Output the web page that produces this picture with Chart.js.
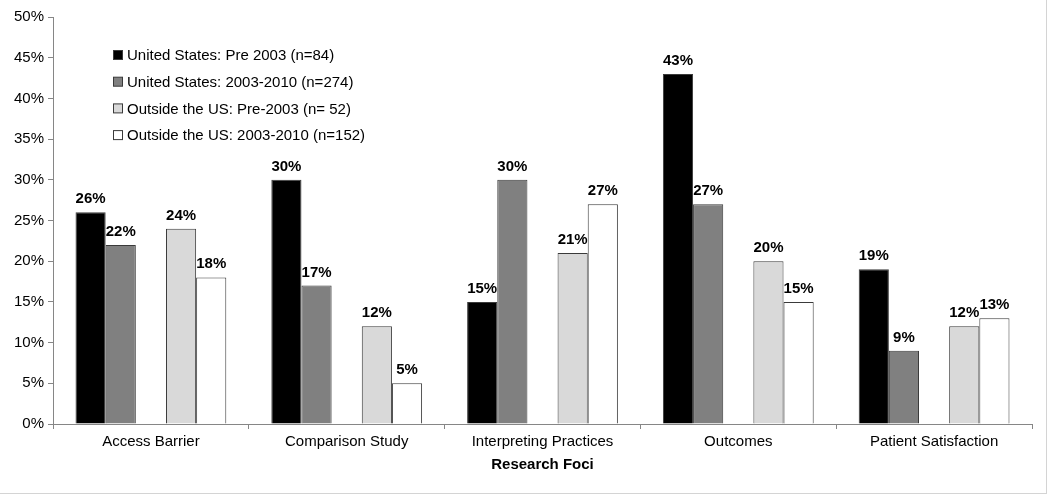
<!DOCTYPE html>
<html lang="en">
<head>
    <meta charset="UTF-8">
    <title>Research Foci</title>
    <script src="https://cdn.jsdelivr.net/npm/chart.js"></script>
    <style>
        body { margin: 0; background: #fff; font-family: "Liberation Sans", Arial, sans-serif; }
        #wrap {
            position: relative;
            width: 1046px;
            height: 493px;
            border-right: 1px solid #d4d4d4;
            border-bottom: 1px solid #d4d4d4;
        }
    </style>
</head>
<body>
<div id="wrap">
    <canvas id="chartCanvas" width="1046" height="493"></canvas>
</div>

<script>
    const categories = ['Access Barrier', 'Comparison Study', 'Interpreting Practices', 'Outcomes', 'Patient Satisfaction'];
    const seriesNames = [
        'United States: Pre 2003 (n=84)',
        'United States: 2003-2010 (n=274)',
        'Outside the US: Pre-2003 (n= 52)',
        'Outside the US: 2003-2010 (n=152)'
    ];
    const usPre2003 = [26, 30, 15, 43, 19];
    const us2003to2010 = [22, 17, 30, 27, 9];
    const outsidePre2003 = [24, 12, 21, 20, 12];
    const outside2003to2010 = [18, 5, 27, 15, 13];
    const yTicks = [0, 5, 10, 15, 20, 25, 30, 35, 40, 45, 50];

    const fills = ['#000000', '#808080', '#d9d9d9', '#ffffff'];
    const FONT = '"Liberation Sans", Arial, sans-serif';

    function barSet(label, data, i) {
        return {
            label, data,
            backgroundColor: fills[i],
            borderColor: '#3a3a3a',
            borderWidth: 1,
            borderSkipped: 'bottom'
        };
    }

    // empty slot between US and non-US bars, like the original
    const spacer = { label: '', data: categories.map(() => null), backgroundColor: 'transparent', spacer: true };

    const valueLabels = {
        id: 'valueLabels',
        afterDatasetsDraw(chart) {
            const ctx = chart.ctx;
            ctx.save();
            ctx.font = 'bold 15px ' + FONT;
            ctx.fillStyle = '#000';
            ctx.textAlign = 'center';
            ctx.textBaseline = 'alphabetic';
            chart.data.datasets.forEach((ds, di) => {
                if (ds.spacer) return;
                chart.getDatasetMeta(di).data.forEach((bar, i) => {
                    ctx.fillText(ds.data[i] + '%', bar.x, bar.y - 9);
                });
            });
            ctx.restore();
        }
    };

    const boxLegend = {
        id: 'boxLegend',
        afterDraw(chart) {
            const ctx = chart.ctx;
            ctx.save();
            ctx.font = '15px ' + FONT;
            ctx.textBaseline = 'middle';
            seriesNames.forEach((name, i) => {
                const y = 55 + i * 26.7;
                ctx.fillStyle = fills[i];
                ctx.fillRect(113.5, y - 4.5, 9, 9);
                ctx.strokeStyle = '#3a3a3a';
                ctx.lineWidth = 1;
                ctx.strokeRect(113.5, y - 4.5, 9, 9);
                ctx.fillStyle = '#000';
                ctx.fillText(name, 127, y + 1);
            });
            ctx.restore();
        }
    };

    const datasets = [
        barSet(seriesNames[0], usPre2003, 0),
        barSet(seriesNames[1], us2003to2010, 1),
        spacer,
        barSet(seriesNames[2], outsidePre2003, 2),
        barSet(seriesNames[3], outside2003to2010, 3)
    ];

    new Chart(document.getElementById('chartCanvas'), {
        type: 'bar',
        data: { labels: categories, datasets },
        plugins: [valueLabels, boxLegend],
        options: {
            responsive: false,
            animation: false,
            layout: { padding: { top: 17, right: 14, left: 0, bottom: 19 } },
            datasets: { bar: { categoryPercentage: 0.77, barPercentage: 1 } },
            plugins: { legend: { display: false }, tooltip: { enabled: false } },
            scales: {
                x: {
                    grid: { drawOnChartArea: false, drawTicks: true, tickLength: 5, color: '#868686', offset: true },
                    border: { color: '#868686' },
                    ticks: { color: '#000', font: { family: FONT, size: 15 }, padding: 4 },
                    title: { display: true, text: 'Research Foci', color: '#000', font: { family: FONT, size: 15, weight: 'bold' }, padding: { top: 2, bottom: 0 } },
                    afterFit: s => { s.height = 50; }
                },
                y: {
                    min: 0, max: 50,
                    afterBuildTicks: s => { s.ticks = yTicks.map(v => ({ value: v })); },
                    grid: { drawOnChartArea: false, drawTicks: true, tickLength: 5, color: '#868686' },
                    border: { color: '#868686' },
                    ticks: { color: '#000', font: { family: FONT, size: 15 }, padding: 4, callback: v => v + '%' },
                    afterFit: s => { s.width = 53; }
                }
            }
        }
    });
</script>
</body>
</html>
